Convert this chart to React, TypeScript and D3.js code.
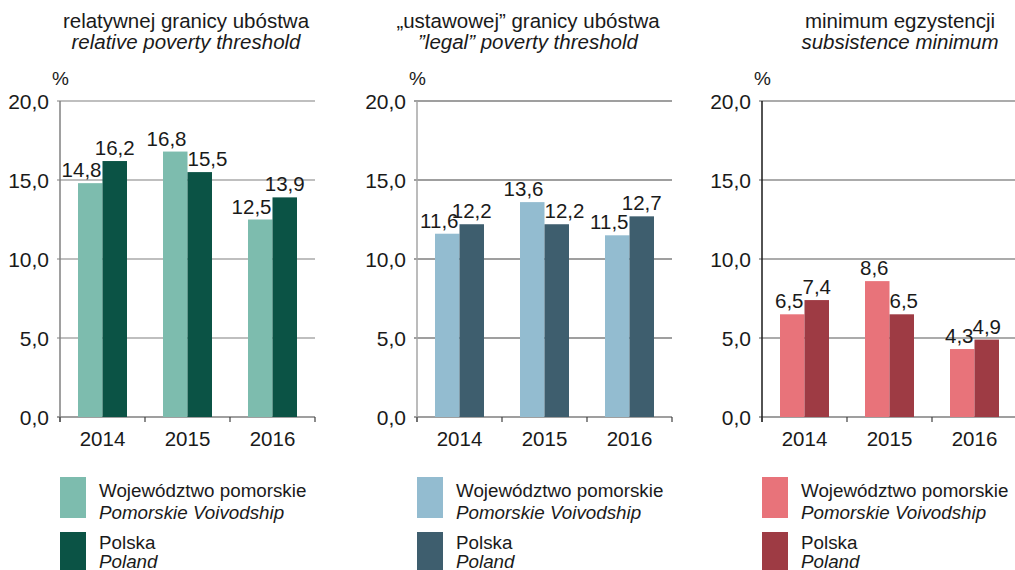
import * as d3 from "d3";

const years = ["2014", "2015", "2016"];
const yTicks = [0, 5, 10, 15, 20];

const relPomorskie = [14.8, 16.8, 12.5];
const relPolska = [16.2, 15.5, 13.9];
const legalPomorskie = [11.6, 13.6, 11.5];
const legalPolska = [12.2, 12.2, 12.7];
const subPomorskie = [6.5, 8.6, 4.3];
const subPolska = [7.4, 6.5, 4.9];

const legendPl = ["Województwo pomorskie", "Polska"];
const legendEn = ["Pomorskie Voivodship", "Poland"];

const W = 1015;
const H = 570;
const FONT = "'Liberation Sans', Arial, sans-serif";
const plotW = 255;
const y = d3.scaleLinear().domain([0, 20]).range([417, 101]);

const pl = d3.formatLocale({ decimal: ",", thousands: " ", grouping: [3], currency: ["", " zł"] });
const fmt = pl.format(".1f");

type PanelProps = {
  axisX: number;
  titleX: number;
  titlePl: string;
  titleEn: string;
  light: number[];
  dark: number[];
  colors: [string, string];
  gridColor: string;
  axisColor: string;
};

function Panel({ axisX, titleX, titlePl, titleEn, light, dark, colors, gridColor, axisColor }: PanelProps) {
  const x = d3.scaleBand<string>().domain(years).range([axisX, axisX + plotW]).padding(0);
  const xs = d3.scaleBand<number>().domain([0, 1]).range([0, x.bandwidth()]).paddingInner(0).paddingOuter(0.735);
  const bw = xs.bandwidth();

  return (
    <g fontFamily={FONT} fill="#1a1a1a">
      <text x={titleX} y={28} fontSize={20.5} textAnchor="middle">{titlePl}</text>
      <text x={titleX} y={49} fontSize={20.5} textAnchor="middle" fontStyle="italic">{titleEn}</text>
      <text x={axisX - 8} y={85} fontSize={19}>%</text>

      {/* grid */}
      {yTicks.map((t) => (
        <g key={t}>
          <line x1={axisX - 3} x2={axisX + plotW} y1={y(t)} y2={y(t)} stroke={t === 0 ? "#404040" : gridColor} strokeWidth={1.2} />
          <text x={axisX - 11} y={y(t)} dy="0.36em" fontSize={21} textAnchor="end">{fmt(t)}</text>
        </g>
      ))}

      {/* bars */}
      {years.map((yr, i) => {
        const x0 = x(yr)!;
        const lx = x0 + xs(0)!;
        const dx = x0 + xs(1)!;
        return (
          <g key={yr}>
            <rect x={lx} y={y(light[i])} width={bw} height={y(0) - y(light[i])} fill={colors[0]} />
            <rect x={dx} y={y(dark[i])} width={bw} height={y(0) - y(dark[i])} fill={colors[1]} />
            <text x={lx + bw - 1} y={y(light[i]) - 6} fontSize={20.5} textAnchor="end">{fmt(light[i])}</text>
            {dark[i] >= light[i] ? (
              <text x={dx + bw / 2} y={y(dark[i]) - 6} fontSize={20.5} textAnchor="middle">{fmt(dark[i])}</text>
            ) : (
              <text x={dx} y={y(dark[i]) - 6} fontSize={20.5} textAnchor="start">{fmt(dark[i])}</text>
            )}
            <text x={x0 + x.bandwidth() / 2} y={446} fontSize={20.5} textAnchor="middle">{yr}</text>
          </g>
        );
      })}

      {/* axes */}
      <line x1={axisX} x2={axisX} y1={y(20)} y2={y(0) + 5} stroke={axisColor} strokeWidth={1.5} />
      {d3.range(years.length + 1).map((i) => (
        <line key={i} x1={axisX + i * x.step()} x2={axisX + i * x.step()} y1={y(0)} y2={y(0) + 5} stroke="#404040" strokeWidth={1.2} />
      ))}

      {/* legend */}
      {legendPl.map((lab, i) => (
        <g key={lab}>
          <rect x={axisX} y={477 + i * 55} width={26} height={41} fill={colors[i]} />
          <text x={axisX + 39} y={497 + i * 52} fontSize={18.8}>{lab}</text>
          <text x={axisX + 39} y={519 + i * 49} fontSize={18.8} fontStyle="italic">{legendEn[i]}</text>
        </g>
      ))}
    </g>
  );
}

export default function App() {
  return (
    <div style={{ position: "absolute", left: 0, top: 0, width: W, height: H, background: "#fff" }}>
      <svg width={W} height={H}>
        <rect width={W} height={H} fill="#fff" />
        <Panel
          axisX={60}
          titleX={186}
          titlePl="relatywnej granicy ubóstwa"
          titleEn="relative poverty threshold"
          light={relPomorskie}
          dark={relPolska}
          colors={["#7dbcae", "#0b5345"]}
          gridColor="#808080"
          axisColor="#808080"
        />
        <Panel
          axisX={417}
          titleX={528}
          titlePl="„ustawowej” granicy ubóstwa"
          titleEn="”legal” poverty threshold"
          light={legalPomorskie}
          dark={legalPolska}
          colors={["#93bcd0", "#3e5e6e"]}
          gridColor="#404040"
          axisColor="#a6a6a6"
        />
        <Panel
          axisX={762}
          titleX={900}
          titlePl="minimum egzystencji"
          titleEn="subsistence minimum"
          light={subPomorskie}
          dark={subPolska}
          colors={["#e8737a", "#9e3b44"]}
          gridColor="#595959"
          axisColor="#1a1a1a"
        />
      </svg>
    </div>
  );
}
